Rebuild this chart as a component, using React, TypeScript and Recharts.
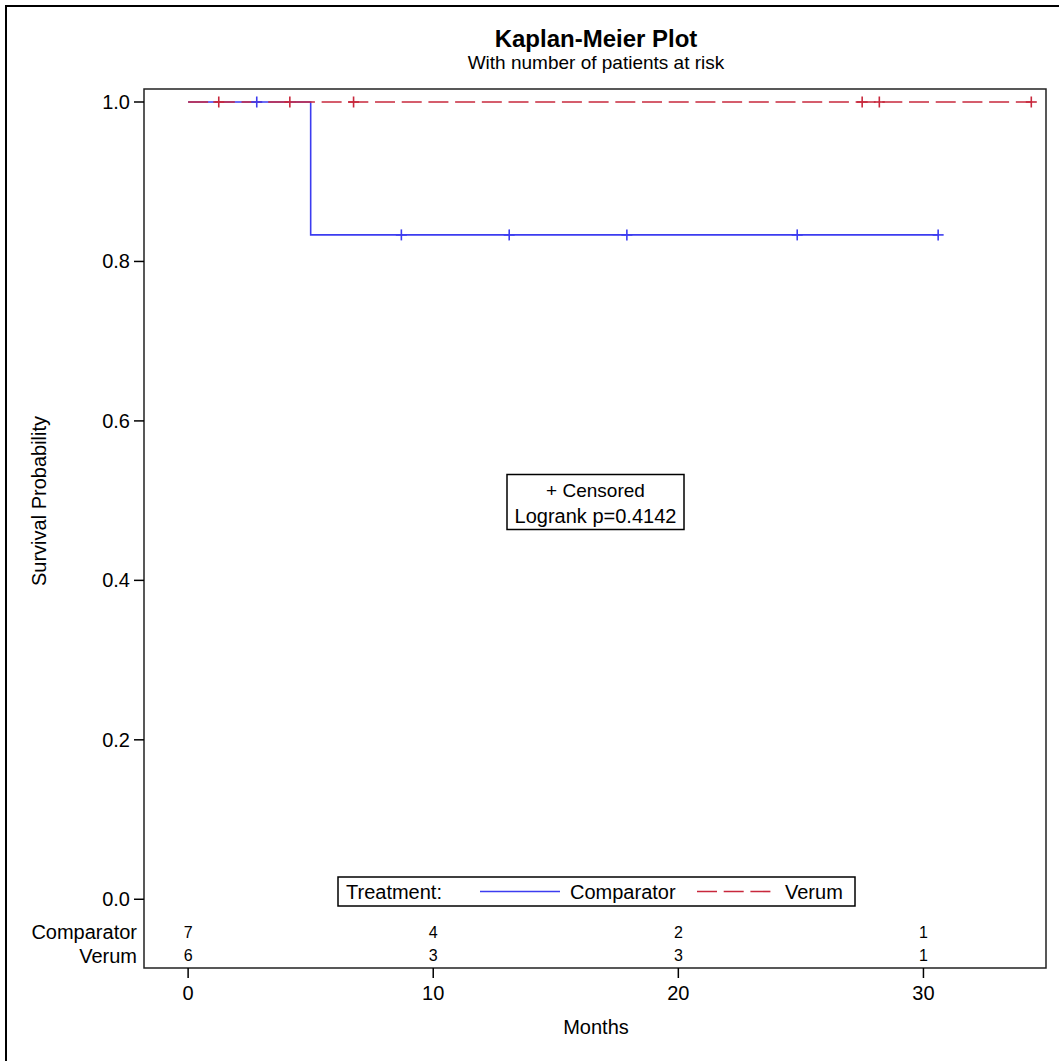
import { ComposedChart, Line, Scatter, XAxis, YAxis, ReferenceArea } from "recharts";

// Kaplan-Meier step data (time in months, survival estimate)
const compTime = [0, 2.8, 5.0, 8.7, 13.1, 17.9, 24.85, 30.6];
const compSurv = [1, 1, 0.8333, 0.8333, 0.8333, 0.8333, 0.8333, 0.8333];
const compCensored = [false, true, false, true, true, true, true, true];

const verumTime = [0, 1.25, 4.15, 6.75, 27.5, 28.2, 34.4];
const verumSurv = [1, 1, 1, 1, 1, 1, 1];
const verumCensored = [false, true, true, true, true, true, true];

// numbers at risk
const riskTimes = [0, 10, 20, 30];
const compAtRisk = [7, 4, 2, 1];
const verumAtRisk = [6, 3, 3, 1];

const xTicks = [0, 10, 20, 30];
const yTicks = [0, 0.2, 0.4, 0.6, 0.8, 1.0];

const BLUE = "#3c3cf0";
const RED = "#c8283c";
const FONT = "'Liberation Sans', Arial, sans-serif";

const X_MIN = -1.8;
const X_MAX = 35;
const Y_MIN = -0.0862;
const Y_MAX = 1.0163;
// rows of the at-risk table sit inside the frame, below 0.0
const ROW_COMP = -0.041;
const ROW_VERUM = -0.071;
const rowNames: Record<string, string> = {
  [String(ROW_COMP)]: "Comparator",
  [String(ROW_VERUM)]: "Verum",
};

const compData = compTime.map((t, i) => ({ t, s: compSurv[i] }));
const verumData = verumTime.map((t, i) => ({ t, s: verumSurv[i] }));
const compCens = compData.filter((_, i) => compCensored[i]);
const verumCens = verumData.filter((_, i) => verumCensored[i]);
const compRisk = riskTimes.map((t, i) => ({ t, s: ROW_COMP, n: compAtRisk[i] }));
const verumRisk = riskTimes.map((t, i) => ({ t, s: ROW_VERUM, n: verumAtRisk[i] }));

const PLOT_LEFT = 144;

const YTick = (props: any) => {
  const { y, payload } = props;
  const name = rowNames[String(payload.value)];
  if (name) {
    return (
      <text x={137} y={y} dy="0.35em" textAnchor="end" fontSize={20} fontFamily={FONT} fill="#000">
        {name}
      </text>
    );
  }
  return (
    <g>
      <line x1={PLOT_LEFT - 10} x2={PLOT_LEFT} y1={y} y2={y} stroke="#000" strokeWidth={1.5} />
      <text x={PLOT_LEFT - 14} y={y} dy="0.35em" textAnchor="end" fontSize={20} fontFamily={FONT} fill="#000">
        {payload.value.toFixed(1)}
      </text>
    </g>
  );
};

const plus = (color: string) => (p: any) => (
  <g stroke={color} strokeWidth={1.6}>
    <line x1={p.cx - 5.5} x2={p.cx + 5.5} y1={p.cy} y2={p.cy} />
    <line x1={p.cx} x2={p.cx} y1={p.cy - 5.5} y2={p.cy + 5.5} />
  </g>
);

const riskLabel = (p: any) => (
  <text x={p.cx} y={p.cy} dy="0.35em" textAnchor="middle" fontSize={16} fontFamily={FONT} fill="#000">
    {p.payload.n}
  </text>
);

export default function App() {
  return (
    <div style={{ position: "absolute", left: 0, top: 0, width: 1059, height: 1061, overflow: "hidden", background: "#fff" }}>
      <div style={{ position: "absolute", left: 5, top: 5, width: 1100, height: 1100, border: "2px solid #000" }} />
      <div style={{ position: "absolute", left: 0, top: 0 }}>
        <ComposedChart width={1059} height={1061} margin={{ top: 89, right: 13, bottom: 0, left: 0 }}>
          <XAxis
            type="number"
            dataKey="t"
            domain={[X_MIN, X_MAX]}
            ticks={xTicks}
            allowDataOverflow
            height={93}
            axisLine={false}
            tickSize={10}
            tickMargin={8}
            tickLine={{ stroke: "#000", strokeWidth: 1.5 }}
            tick={{ fontSize: 20, fontFamily: FONT, fill: "#000" }}
          />
          <YAxis
            type="number"
            dataKey="s"
            domain={[Y_MIN, Y_MAX]}
            ticks={[ROW_VERUM, ROW_COMP, ...yTicks]}
            interval={0}
            allowDataOverflow
            width={144}
            axisLine={false}
            tickLine={false}
            tick={YTick}
          />
          <ReferenceArea
            x1={X_MIN}
            x2={X_MAX}
            y1={Y_MIN}
            y2={Y_MAX}
            fill="#fff"
            fillOpacity={0}
            stroke="#222"
            strokeWidth={1.5}
            ifOverflow="visible"
          />
          <Line
            data={compData}
            dataKey="s"
            type="stepAfter"
            stroke={BLUE}
            strokeWidth={1.6}
            dot={false}
            isAnimationActive={false}
          />
          <Line
            data={verumData}
            dataKey="s"
            type="stepAfter"
            stroke={RED}
            strokeWidth={1.6}
            strokeDasharray="20 6.7"
            dot={false}
            isAnimationActive={false}
          />
          <Scatter data={compCens} shape={plus(BLUE)} isAnimationActive={false} />
          <Scatter data={verumCens} shape={plus(RED)} isAnimationActive={false} />
          <Scatter data={compRisk} shape={riskLabel} isAnimationActive={false} />
          <Scatter data={verumRisk} shape={riskLabel} isAnimationActive={false} />
        </ComposedChart>
      </div>
      <svg
        width={1059}
        height={1061}
        style={{ position: "absolute", left: 0, top: 0, pointerEvents: "none" }}
        fontFamily={FONT}
      >
        <text x={596} y={46.5} textAnchor="middle" fontSize={24} fontWeight="bold">
          Kaplan-Meier Plot
        </text>
        <text x={596} y={69} textAnchor="middle" fontSize={19}>
          With number of patients at risk
        </text>
        <text x={46} y={501} textAnchor="middle" fontSize={20} transform="rotate(-90, 46, 501)">
          Survival Probability
        </text>
        <text x={596} y={1034} textAnchor="middle" fontSize={20}>
          Months
        </text>

        {/* statistics inset */}
        <rect x={507} y={474.5} width={177} height={55} fill="#fff" stroke="#000" strokeWidth={1.5} />
        <text x={595.5} y={496.5} textAnchor="middle" fontSize={19}>
          + Censored
        </text>
        <text x={595.5} y={523} textAnchor="middle" fontSize={20}>
          Logrank p=0.4142
        </text>

        {/* legend */}
        <rect x={338} y={877} width={517} height={29} fill="#fff" stroke="#000" strokeWidth={1.5} />
        <text x={346} y={898.5} fontSize={20}>
          Treatment:
        </text>
        <line x1={480} x2={560} y1={891.5} y2={891.5} stroke={BLUE} strokeWidth={1.6} />
        <text x={570} y={898.5} fontSize={20}>
          Comparator
        </text>
        <line x1={697} x2={771} y1={891.5} y2={891.5} stroke={RED} strokeWidth={1.6} strokeDasharray="20 6.7" />
        <text x={785} y={898.5} fontSize={20}>
          Verum
        </text>
      </svg>
    </div>
  );
}
